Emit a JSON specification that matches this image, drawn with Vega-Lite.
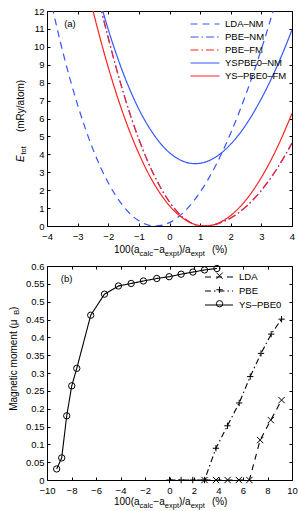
{
  "$schema": "https://vega.github.io/schema/vega-lite/v6.json",
  "autosize": {"type": "pad"},
  "padding": {"left": 8, "top": 5, "right": 7, "bottom": 1},
  "background": "white",
  "bounds": "flush",
  "spacing": 40,
  "resolve": {
    "scale": {"color": "independent", "strokeDash": "independent", "shape": "independent"},
    "legend": {"color": "independent", "strokeDash": "independent", "shape": "independent"}
  },
  "datasets": {
    "energy": [
      {"series": "LDA–NM", "x": -4, "y": 13.54}, {"series": "LDA–NM", "x": -3.5, "y": 9.83}, {"series": "LDA–NM", "x": -3, "y": 6.76}, {"series": "LDA–NM", "x": -2.5, "y": 4.29}, {"series": "LDA–NM", "x": -2, "y": 2.41}, {"series": "LDA–NM", "x": -1.5, "y": 1.09}, {"series": "LDA–NM", "x": -1, "y": 0.29}, {"series": "LDA–NM", "x": -0.45, "y": 0}, {"series": "LDA–NM", "x": 0, "y": 0.19}, {"series": "LDA–NM", "x": 0.5, "y": 0.83}, {"series": "LDA–NM", "x": 1, "y": 1.89}, {"series": "LDA–NM", "x": 1.5, "y": 3.35}, {"series": "LDA–NM", "x": 2, "y": 5.19}, {"series": "LDA–NM", "x": 2.5, "y": 7.37}, {"series": "LDA–NM", "x": 3, "y": 9.87}, {"series": "LDA–NM", "x": 3.5, "y": 12.67},
      {"series": "PBE–NM", "x": -2.5, "y": 14.0}, {"series": "PBE–NM", "x": -2.25, "y": 12.2}, {"series": "PBE–NM", "x": -2, "y": 10.5}, {"series": "PBE–NM", "x": -1.5, "y": 7.4}, {"series": "PBE–NM", "x": -1, "y": 4.84}, {"series": "PBE–NM", "x": -0.5, "y": 2.83}, {"series": "PBE–NM", "x": 0, "y": 1.34}, {"series": "PBE–NM", "x": 0.5, "y": 0.4}, {"series": "PBE–NM", "x": 1, "y": 0.01}, {"series": "PBE–NM", "x": 1.1, "y": 0}, {"series": "PBE–NM", "x": 1.5, "y": 0.09}, {"series": "PBE–NM", "x": 2, "y": 0.45}, {"series": "PBE–NM", "x": 2.5, "y": 1.08}, {"series": "PBE–NM", "x": 3, "y": 1.99}, {"series": "PBE–NM", "x": 3.5, "y": 3.17}, {"series": "PBE–NM", "x": 4, "y": 4.63},
      {"series": "PBE–FM", "x": -2.5, "y": 14.0}, {"series": "PBE–FM", "x": -2.25, "y": 12.2}, {"series": "PBE–FM", "x": -2, "y": 10.5}, {"series": "PBE–FM", "x": -1.5, "y": 7.4}, {"series": "PBE–FM", "x": -1, "y": 4.84}, {"series": "PBE–FM", "x": -0.5, "y": 2.83}, {"series": "PBE–FM", "x": 0, "y": 1.34}, {"series": "PBE–FM", "x": 0.5, "y": 0.4}, {"series": "PBE–FM", "x": 1, "y": 0.01}, {"series": "PBE–FM", "x": 1.1, "y": 0}, {"series": "PBE–FM", "x": 1.5, "y": 0.09}, {"series": "PBE–FM", "x": 2, "y": 0.45}, {"series": "PBE–FM", "x": 2.5, "y": 1.08}, {"series": "PBE–FM", "x": 3, "y": 1.99}, {"series": "PBE–FM", "x": 3.5, "y": 3.17}, {"series": "PBE–FM", "x": 4, "y": 4.63},
      {"series": "YSPBE0–NM", "x": -2.5, "y": 14.01}, {"series": "YSPBE0–NM", "x": -2, "y": 10.97}, {"series": "YSPBE0–NM", "x": -1.5, "y": 8.48}, {"series": "YSPBE0–NM", "x": -1, "y": 6.52}, {"series": "YSPBE0–NM", "x": -0.5, "y": 5.07}, {"series": "YSPBE0–NM", "x": 0, "y": 4.09}, {"series": "YSPBE0–NM", "x": 0.5, "y": 3.58}, {"series": "YSPBE0–NM", "x": 0.84, "y": 3.48}, {"series": "YSPBE0–NM", "x": 1, "y": 3.5}, {"series": "YSPBE0–NM", "x": 1.5, "y": 3.84}, {"series": "YSPBE0–NM", "x": 2, "y": 4.57}, {"series": "YSPBE0–NM", "x": 2.5, "y": 5.66}, {"series": "YSPBE0–NM", "x": 3, "y": 7.11}, {"series": "YSPBE0–NM", "x": 3.5, "y": 8.87}, {"series": "YSPBE0–NM", "x": 4, "y": 10.94},
      {"series": "YS–PBE0–FM", "x": -3, "y": 15.7}, {"series": "YS–PBE0–FM", "x": -2.5, "y": 12.03}, {"series": "YS–PBE0–FM", "x": -2, "y": 8.86}, {"series": "YS–PBE0–FM", "x": -1.5, "y": 6.2}, {"series": "YS–PBE0–FM", "x": -1, "y": 4.04}, {"series": "YS–PBE0–FM", "x": -0.5, "y": 2.35}, {"series": "YS–PBE0–FM", "x": 0, "y": 1.13}, {"series": "YS–PBE0–FM", "x": 0.5, "y": 0.36}, {"series": "YS–PBE0–FM", "x": 1, "y": 0.02}, {"series": "YS–PBE0–FM", "x": 1.15, "y": 0}, {"series": "YS–PBE0–FM", "x": 1.5, "y": 0.1}, {"series": "YS–PBE0–FM", "x": 2, "y": 0.59}, {"series": "YS–PBE0–FM", "x": 2.5, "y": 1.46}, {"series": "YS–PBE0–FM", "x": 3, "y": 2.71}, {"series": "YS–PBE0–FM", "x": 3.5, "y": 4.32}, {"series": "YS–PBE0–FM", "x": 4, "y": 6.28}
    ],
    "moment": [
      {"series": "LDA", "x": 2.86, "y": 0}, {"series": "LDA", "x": 3.8, "y": 0}, {"series": "LDA", "x": 4.74, "y": 0}, {"series": "LDA", "x": 5.66, "y": 0}, {"series": "LDA", "x": 6.52, "y": 0}, {"series": "LDA", "x": 7.4, "y": 0.112}, {"series": "LDA", "x": 8.27, "y": 0.168}, {"series": "LDA", "x": 9.15, "y": 0.224},
      {"series": "PBE", "x": 0, "y": 0}, {"series": "PBE", "x": 0.95, "y": 0}, {"series": "PBE", "x": 1.9, "y": 0}, {"series": "PBE", "x": 2.86, "y": 0}, {"series": "PBE", "x": 3.79, "y": 0.089}, {"series": "PBE", "x": 4.73, "y": 0.152}, {"series": "PBE", "x": 5.69, "y": 0.216}, {"series": "PBE", "x": 6.59, "y": 0.29}, {"series": "PBE", "x": 7.47, "y": 0.355}, {"series": "PBE", "x": 8.3, "y": 0.409}, {"series": "PBE", "x": 9.15, "y": 0.451},
      {"series": "YS–PBE0", "x": -9.21, "y": 0.031}, {"series": "YS–PBE0", "x": -8.8, "y": 0.062}, {"series": "YS–PBE0", "x": -8.39, "y": 0.18}, {"series": "YS–PBE0", "x": -7.98, "y": 0.264}, {"series": "YS–PBE0", "x": -7.57, "y": 0.313}, {"series": "YS–PBE0", "x": -6.43, "y": 0.462}, {"series": "YS–PBE0", "x": -5.31, "y": 0.521}, {"series": "YS–PBE0", "x": -4.17, "y": 0.544}, {"series": "YS–PBE0", "x": -3.13, "y": 0.551}, {"series": "YS–PBE0", "x": -2.13, "y": 0.558}, {"series": "YS–PBE0", "x": -1.04, "y": 0.565}, {"series": "YS–PBE0", "x": -0.03, "y": 0.57}, {"series": "YS–PBE0", "x": 0.95, "y": 0.577}, {"series": "YS–PBE0", "x": 1.91, "y": 0.583}, {"series": "YS–PBE0", "x": 2.86, "y": 0.589}, {"series": "YS–PBE0", "x": 3.87, "y": 0.593}
    ]
  },
  "vconcat": [
    {
      "width": 245,
      "height": 215,
      "layer": [
        {
          "data": {"name": "energy"},
          "mark": {"type": "line", "clip": true, "strokeWidth": 1.2, "interpolate": "monotone"},
          "encoding": {
            "x": {"field": "x", "type": "quantitative", "scale": {"domain": [-4, 4], "nice": false, "zero": false}, "axis": {"values": [-4, -3, -2, -1, 0, 1, 2, 3, 4], "format": ".2~f", "title": null, "labelPadding": 8}},
            "y": {"field": "y", "type": "quantitative", "scale": {"domain": [0, 12], "nice": false}, "axis": {"values": [0, 1, 2, 3, 4, 5, 6, 7, 8, 9, 10, 11, 12], "format": ".2~f", "title": null, "labelPadding": 6}},
            "color": {"field": "series", "type": "nominal", "scale": {"domain": ["LDA–NM", "PBE–NM", "PBE–FM", "YSPBE0–NM", "YS–PBE0–FM"], "range": ["#3355ff", "#3355ff", "#ff2222", "#3355ff", "#ff2222"]}, "legend": {"title": null, "orient": "none", "legendX": 152, "legendY": 7, "symbolType": "M-2.9,0L2.9,0", "symbolSize": 100, "symbolStrokeWidth": 1.2, "labelFontSize": 9.5, "labelOffset": 14, "rowPadding": 2, "padding": 0}},
            "strokeDash": {"field": "series", "type": "nominal", "scale": {"domain": ["LDA–NM", "PBE–NM", "PBE–FM", "YSPBE0–NM", "YS–PBE0–FM"], "range": [[7, 5], [8, 3, 1.5, 3], [8, 3, 1.5, 3], [1, 0], [1, 0]]}, "legend": {"title": null, "orient": "none", "legendX": 152, "legendY": 7, "symbolType": "M-2.9,0L2.9,0", "symbolSize": 100, "symbolStrokeWidth": 1.2, "labelFontSize": 9.5, "labelOffset": 14, "rowPadding": 2, "padding": 0}}
          }
        },
        {
          "mark": {"type": "rule", "color": "#333333", "strokeWidth": 1.5},
          "encoding": {"x": {"datum": 0, "scale": {"domain": [-4, 4], "nice": false, "zero": false}, "axis": null}}
        },
        {
          "mark": {"type": "point", "opacity": 0},
          "encoding": {
            "x": {"datum": 0, "scale": {"domain": [-4, 4], "nice": false, "zero": false}, "axis": {"orient": "top", "labels": false, "title": null, "values": [-4, -3, -2, -1, 0, 1, 2, 3, 4]}},
            "y": {"datum": 0, "scale": {"domain": [0, 12], "nice": false}, "axis": {"orient": "right", "labels": false, "title": null, "values": [0, 1, 2, 3, 4, 5, 6, 7, 8, 9, 10, 11, 12]}}
          }
        },
        {
          "data": {"values": [{"t": "(a)"}]},
          "mark": {"type": "text", "align": "left", "baseline": "middle", "fontSize": 9.5, "color": "black"},
          "encoding": {"text": {"field": "t"}, "x": {"datum": -3.44, "scale": {"domain": [-4, 4], "nice": false, "zero": false}, "axis": null}, "y": {"datum": 11.26, "scale": {"domain": [0, 12], "nice": false}, "axis": null}}
        },
        {
          "data": {"values": [{"t": "100(a"}]},
          "mark": {"type": "text", "align": "left", "baseline": "middle", "fontSize": 10, "color": "black", "dx": -55.5, "dy": 24},
          "encoding": {"text": {"field": "t"}, "x": {"datum": 0, "scale": {"domain": [-4, 4], "nice": false, "zero": false}, "axis": null}, "y": {"datum": 0, "scale": {"domain": [0, 12], "nice": false}, "axis": null}}
        },
        {
          "data": {"values": [{"t": "calc"}]},
          "mark": {"type": "text", "align": "left", "baseline": "middle", "fontSize": 7.5, "color": "black", "dx": -29.9, "dy": 28},
          "encoding": {"text": {"field": "t"}, "x": {"datum": 0, "scale": {"domain": [-4, 4], "nice": false, "zero": false}, "axis": null}, "y": {"datum": 0, "scale": {"domain": [0, 12], "nice": false}, "axis": null}}
        },
        {
          "data": {"values": [{"t": "−a"}]},
          "mark": {"type": "text", "align": "left", "baseline": "middle", "fontSize": 10, "color": "black", "dx": -16.1, "dy": 24},
          "encoding": {"text": {"field": "t"}, "x": {"datum": 0, "scale": {"domain": [-4, 4], "nice": false, "zero": false}, "axis": null}, "y": {"datum": 0, "scale": {"domain": [0, 12], "nice": false}, "axis": null}}
        },
        {
          "data": {"values": [{"t": "expt"}]},
          "mark": {"type": "text", "align": "left", "baseline": "middle", "fontSize": 7.5, "color": "black", "dx": -4.7, "dy": 28},
          "encoding": {"text": {"field": "t"}, "x": {"datum": 0, "scale": {"domain": [-4, 4], "nice": false, "zero": false}, "axis": null}, "y": {"datum": 0, "scale": {"domain": [0, 12], "nice": false}, "axis": null}}
        },
        {
          "data": {"values": [{"t": ")/a"}]},
          "mark": {"type": "text", "align": "left", "baseline": "middle", "fontSize": 10, "color": "black", "dx": 9.5, "dy": 24},
          "encoding": {"text": {"field": "t"}, "x": {"datum": 0, "scale": {"domain": [-4, 4], "nice": false, "zero": false}, "axis": null}, "y": {"datum": 0, "scale": {"domain": [0, 12], "nice": false}, "axis": null}}
        },
        {
          "data": {"values": [{"t": "expt"}]},
          "mark": {"type": "text", "align": "left", "baseline": "middle", "fontSize": 7.5, "color": "black", "dx": 21.2, "dy": 28},
          "encoding": {"text": {"field": "t"}, "x": {"datum": 0, "scale": {"domain": [-4, 4], "nice": false, "zero": false}, "axis": null}, "y": {"datum": 0, "scale": {"domain": [0, 12], "nice": false}, "axis": null}}
        },
        {
          "data": {"values": [{"t": "(%)"}]},
          "mark": {"type": "text", "align": "left", "baseline": "middle", "fontSize": 10, "color": "black", "dx": 42.4, "dy": 24},
          "encoding": {"text": {"field": "t"}, "x": {"datum": 0, "scale": {"domain": [-4, 4], "nice": false, "zero": false}, "axis": null}, "y": {"datum": 0, "scale": {"domain": [0, 12], "nice": false}, "axis": null}}
        },
        {
          "data": {"values": [{"t": "E"}]},
          "mark": {"type": "text", "align": "left", "baseline": "middle", "fontSize": 10, "color": "black", "fontStyle": "italic", "angle": 270, "dx": 0, "dy": -26.5},
          "encoding": {"text": {"field": "t"}, "x": {"datum": -4, "scale": {"domain": [-4, 4], "nice": false, "zero": false}, "axis": null}, "y": {"datum": 3.57, "scale": {"domain": [0, 12], "nice": false}, "axis": null}}
        },
        {
          "data": {"values": [{"t": "tot"}]},
          "mark": {"type": "text", "align": "left", "baseline": "middle", "fontSize": 7.5, "color": "black", "angle": 270, "dx": 7.5, "dy": -23},
          "encoding": {"text": {"field": "t"}, "x": {"datum": -4, "scale": {"domain": [-4, 4], "nice": false, "zero": false}, "axis": null}, "y": {"datum": 3.57, "scale": {"domain": [0, 12], "nice": false}, "axis": null}}
        },
        {
          "data": {"values": [{"t": "(mRy/atom)"}]},
          "mark": {"type": "text", "align": "left", "baseline": "middle", "fontSize": 10, "color": "black", "angle": 270, "dx": 30, "dy": -26.5},
          "encoding": {"text": {"field": "t"}, "x": {"datum": -4, "scale": {"domain": [-4, 4], "nice": false, "zero": false}, "axis": null}, "y": {"datum": 3.57, "scale": {"domain": [0, 12], "nice": false}, "axis": null}}
        }
      ],
      "resolve": {"axis": {"x": "independent", "y": "independent"}}
    },
    {
      "width": 245,
      "height": 214,
      "layer": [
        {
          "data": {"name": "moment"},
          "mark": {"type": "line", "color": "black", "strokeWidth": 1.1},
          "encoding": {
            "x": {"field": "x", "type": "quantitative", "scale": {"domain": [-10, 10], "nice": false, "zero": false}, "axis": {"values": [-10, -8, -6, -4, -2, 0, 2, 4, 6, 8, 10], "format": ".2~f", "title": null, "labelPadding": 8}},
            "y": {"field": "y", "type": "quantitative", "scale": {"domain": [0, 0.6], "nice": false}, "axis": {"values": [0, 0.05, 0.1, 0.15, 0.2, 0.25, 0.3, 0.35, 0.4, 0.45, 0.5, 0.55, 0.6], "format": ".2~f", "title": null, "labelPadding": 6}},
            "strokeDash": {"field": "series", "type": "nominal", "scale": {"domain": ["LDA", "PBE", "YS–PBE0"], "range": [[6, 5], [6, 3, 1.5, 3], [1, 0]]}, "legend": {"title": null, "orient": "none", "legendX": 166, "legendY": 5, "symbolType": "M-2.8,0L2.8,0", "symbolSize": 100, "symbolStrokeWidth": 1.1, "symbolStrokeColor": "black", "labelFontSize": 9.5, "labelOffset": 14, "rowPadding": 3, "padding": 0}}
          }
        },
        {
          "data": {"name": "moment"},
          "mark": {"type": "point", "filled": false, "color": "black", "strokeWidth": 1, "size": 40, "opacity": 1},
          "encoding": {
            "x": {"field": "x", "type": "quantitative", "scale": {"domain": [-10, 10], "nice": false, "zero": false}, "axis": null},
            "y": {"field": "y", "type": "quantitative", "scale": {"domain": [0, 0.6], "nice": false}, "axis": null},
            "shape": {"field": "series", "type": "nominal", "scale": {"range": ["M-1,-1L1,1M-1,1L1,-1", "M-1,0L1,0M0,-1L0,1", "circle"]}, "legend": {"title": null, "orient": "none", "legendX": 167.8, "legendY": 5, "symbolSize": 40, "symbolStrokeWidth": 1, "symbolStrokeColor": "black", "symbolFillColor": "white", "labelFontSize": 9.5, "labelExpr": "' '", "rowPadding": 3, "padding": 0}}
          }
        },
        {
          "mark": {"type": "rule", "color": "#333333", "strokeWidth": 1.5},
          "encoding": {"x": {"datum": 0, "scale": {"domain": [-10, 10], "nice": false, "zero": false}, "axis": null}}
        },
        {
          "mark": {"type": "point", "opacity": 0},
          "encoding": {
            "x": {"datum": 0, "scale": {"domain": [-10, 10], "nice": false, "zero": false}, "axis": {"orient": "top", "labels": false, "title": null, "values": [-10, -8, -6, -4, -2, 0, 2, 4, 6, 8, 10]}},
            "y": {"datum": 0, "scale": {"domain": [0, 0.6], "nice": false}, "axis": {"orient": "right", "labels": false, "title": null, "values": [0, 0.05, 0.1, 0.15, 0.2, 0.25, 0.3, 0.35, 0.4, 0.45, 0.5, 0.55, 0.6]}}
          }
        },
        {
          "data": {"values": [{"t": "(b)"}]},
          "mark": {"type": "text", "align": "left", "baseline": "middle", "fontSize": 9.5, "color": "black"},
          "encoding": {"text": {"field": "t"}, "x": {"datum": -8.88, "scale": {"domain": [-10, 10], "nice": false, "zero": false}, "axis": null}, "y": {"datum": 0.563, "scale": {"domain": [0, 0.6], "nice": false}, "axis": null}}
        },
        {
          "data": {"values": [{"t": "100(a"}]},
          "mark": {"type": "text", "align": "left", "baseline": "middle", "fontSize": 10, "color": "black", "dx": -55.5, "dy": 22},
          "encoding": {"text": {"field": "t"}, "x": {"datum": 0, "scale": {"domain": [-10, 10], "nice": false, "zero": false}, "axis": null}, "y": {"datum": 0, "scale": {"domain": [0, 0.6], "nice": false}, "axis": null}}
        },
        {
          "data": {"values": [{"t": "calc"}]},
          "mark": {"type": "text", "align": "left", "baseline": "middle", "fontSize": 7.5, "color": "black", "dx": -29.9, "dy": 26},
          "encoding": {"text": {"field": "t"}, "x": {"datum": 0, "scale": {"domain": [-10, 10], "nice": false, "zero": false}, "axis": null}, "y": {"datum": 0, "scale": {"domain": [0, 0.6], "nice": false}, "axis": null}}
        },
        {
          "data": {"values": [{"t": "−a"}]},
          "mark": {"type": "text", "align": "left", "baseline": "middle", "fontSize": 10, "color": "black", "dx": -16.1, "dy": 22},
          "encoding": {"text": {"field": "t"}, "x": {"datum": 0, "scale": {"domain": [-10, 10], "nice": false, "zero": false}, "axis": null}, "y": {"datum": 0, "scale": {"domain": [0, 0.6], "nice": false}, "axis": null}}
        },
        {
          "data": {"values": [{"t": "expt"}]},
          "mark": {"type": "text", "align": "left", "baseline": "middle", "fontSize": 7.5, "color": "black", "dx": -4.7, "dy": 26},
          "encoding": {"text": {"field": "t"}, "x": {"datum": 0, "scale": {"domain": [-10, 10], "nice": false, "zero": false}, "axis": null}, "y": {"datum": 0, "scale": {"domain": [0, 0.6], "nice": false}, "axis": null}}
        },
        {
          "data": {"values": [{"t": ")/a"}]},
          "mark": {"type": "text", "align": "left", "baseline": "middle", "fontSize": 10, "color": "black", "dx": 9.5, "dy": 22},
          "encoding": {"text": {"field": "t"}, "x": {"datum": 0, "scale": {"domain": [-10, 10], "nice": false, "zero": false}, "axis": null}, "y": {"datum": 0, "scale": {"domain": [0, 0.6], "nice": false}, "axis": null}}
        },
        {
          "data": {"values": [{"t": "expt"}]},
          "mark": {"type": "text", "align": "left", "baseline": "middle", "fontSize": 7.5, "color": "black", "dx": 21.2, "dy": 26},
          "encoding": {"text": {"field": "t"}, "x": {"datum": 0, "scale": {"domain": [-10, 10], "nice": false, "zero": false}, "axis": null}, "y": {"datum": 0, "scale": {"domain": [0, 0.6], "nice": false}, "axis": null}}
        },
        {
          "data": {"values": [{"t": "(%)"}]},
          "mark": {"type": "text", "align": "left", "baseline": "middle", "fontSize": 10, "color": "black", "dx": 42.4, "dy": 22},
          "encoding": {"text": {"field": "t"}, "x": {"datum": 0, "scale": {"domain": [-10, 10], "nice": false, "zero": false}, "axis": null}, "y": {"datum": 0, "scale": {"domain": [0, 0.6], "nice": false}, "axis": null}}
        },
        {
          "data": {"values": [{"t": "Magnetic moment    (μ"}]},
          "mark": {"type": "text", "align": "left", "baseline": "middle", "fontSize": 10, "color": "black", "angle": 270, "dx": 0, "dy": -33},
          "encoding": {"text": {"field": "t"}, "x": {"datum": -10, "scale": {"domain": [-10, 10], "nice": false, "zero": false}, "axis": null}, "y": {"datum": 0.194, "scale": {"domain": [0, 0.6], "nice": false}, "axis": null}}
        },
        {
          "data": {"values": [{"t": "B"}]},
          "mark": {"type": "text", "align": "left", "baseline": "middle", "fontSize": 7.5, "color": "black", "angle": 270, "dx": 96, "dy": -30},
          "encoding": {"text": {"field": "t"}, "x": {"datum": -10, "scale": {"domain": [-10, 10], "nice": false, "zero": false}, "axis": null}, "y": {"datum": 0.194, "scale": {"domain": [0, 0.6], "nice": false}, "axis": null}}
        },
        {
          "data": {"values": [{"t": ")"}]},
          "mark": {"type": "text", "align": "left", "baseline": "middle", "fontSize": 10, "color": "black", "angle": 270, "dx": 100.8, "dy": -33},
          "encoding": {"text": {"field": "t"}, "x": {"datum": -10, "scale": {"domain": [-10, 10], "nice": false, "zero": false}, "axis": null}, "y": {"datum": 0.194, "scale": {"domain": [0, 0.6], "nice": false}, "axis": null}}
        }
      ],
      "resolve": {"axis": {"x": "independent", "y": "independent"}}
    }
  ],
  "config": {
    "font": "Liberation Sans",
    "view": {"stroke": "#000000", "strokeWidth": 1},
    "axis": {"domain": false, "grid": false, "ticks": true, "tickColor": "#000000", "tickSize": -3, "tickWidth": 1, "labelPadding": 5, "labelFontSize": 9.5, "labelColor": "#000000", "labelFlush": false, "labelOverlap": false},
    "legend": {"labelColor": "#000000", "labelFont": "Liberation Sans"}
  }
}
